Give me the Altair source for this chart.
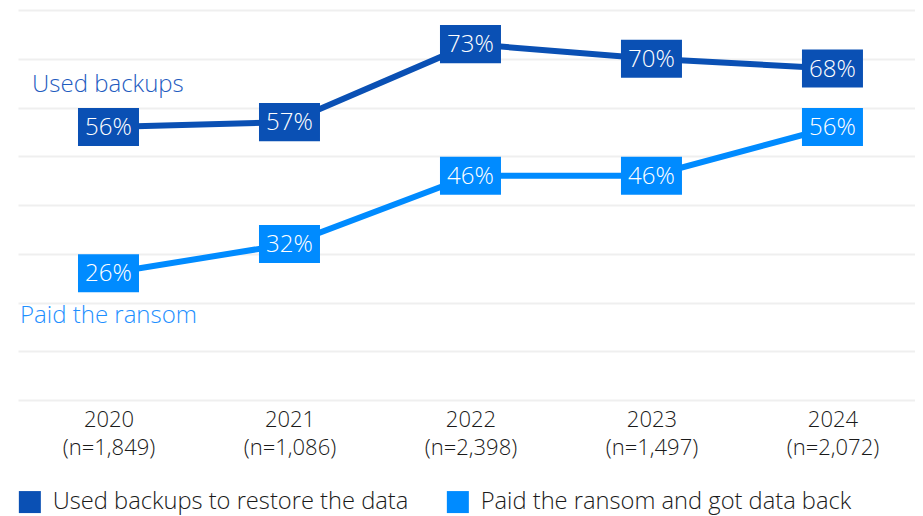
import altair as alt
import pandas as pd

years = ["2020", "2021", "2022", "2023", "2024"]
samples = ["(n=1,849)", "(n=1,086)", "(n=2,398)", "(n=1,497)", "(n=2,072)"]
series_names = ["Used backups to restore the data", "Paid the ransom and got data back"]
used_backups = [56, 57, 73, 70, 68]
paid_ransom = [26, 32, 46, 46, 56]
colors = ["#0a50b4", "#008bff"]
annotations = ["Used backups", "Paid the ransom"]

FONT = "Open Sans"
W = 300

rows = []
for i, y in enumerate(years):
    lab = y + "\n" + samples[i]
    rows.append({"x": lab, "series": series_names[0], "v": used_backups[i], "t": f"{used_backups[i]}%"})
    rows.append({"x": lab, "series": series_names[1], "v": paid_ransom[i], "t": f"{paid_ransom[i]}%"})
df = pd.DataFrame(rows)
xorder = [y + "\n" + s for y, s in zip(years, samples)]

x = alt.X("x:N", sort=xorder, title=None,
          scale=alt.Scale(padding=0.478, align=0.523),
          axis=alt.Axis(labelExpr="split(datum.label, '\\n')", labelAngle=0,
                        labelFontSize=22, labelFont=FONT, labelFontWeight=W, labelColor="#1a1a1a",
                        labelLineHeight=28.5, labelPadding=9, ticks=False, domain=False,
                        grid=False))
y = alt.Y("v:Q", title=None,
          scale=alt.Scale(domain=[0, 80], nice=False),
          axis=alt.Axis(values=list(range(0, 81, 10)), labels=False, ticks=False,
                        domain=False, grid=True, gridColor="#efefef", gridWidth=2))

legend = alt.Legend(title=None, orient="none", legendX=0, legendY=480,
                    direction="horizontal", symbolType="square", symbolSize=484,
                    symbolStrokeWidth=0, labelFontSize=23.7, labelFont=FONT, labelFontWeight=W,
                    labelColor="#1a1a1a", labelLimit=600, labelOffset=11,
                    columnPadding=37, symbolOpacity=1)
color = alt.Color("series:N", scale=alt.Scale(domain=series_names, range=colors), legend=legend)

base = alt.Chart(df)
lines = base.mark_line(strokeWidth=6).encode(x=x, y=y, color=color)
boxes = base.mark_point(
    shape="M-1,-0.623L1,-0.623L1,0.623L-1,0.623Z", size=3721, filled=True, opacity=1, strokeWidth=0
).encode(x=x, y=y, color=color)
texts = base.mark_text(color="white", fontSize=24, font=FONT, fontWeight=W,
                       baseline="middle", align="center", dy=1).encode(
    x=x, y=y, text="t:N"
)

ann_df = pd.DataFrame({"label": annotations, "px": [14, 2], "py": [75, 306], "c": ["#1f5cbf", "#1e90ff"]})
ann = alt.Chart(ann_df).mark_text(fontSize=24, font=FONT, fontWeight=W, align="left", baseline="middle").encode(
    x=alt.X("px:Q", scale=None), y=alt.Y("py:Q", scale=None), text="label:N",
    color=alt.Color("c:N", scale=None),
)

chart = alt.layer(lines, boxes, texts, ann).properties(
    width=897, height=390,
    padding={"left": 10, "top": 2, "right": 0, "bottom": 116},
    autosize=alt.AutoSizeParams(type="none"),
).configure(font=FONT).configure_view(stroke=None)

chart.save("out.html", embed_options={"renderer": "svg", "actions": False})
